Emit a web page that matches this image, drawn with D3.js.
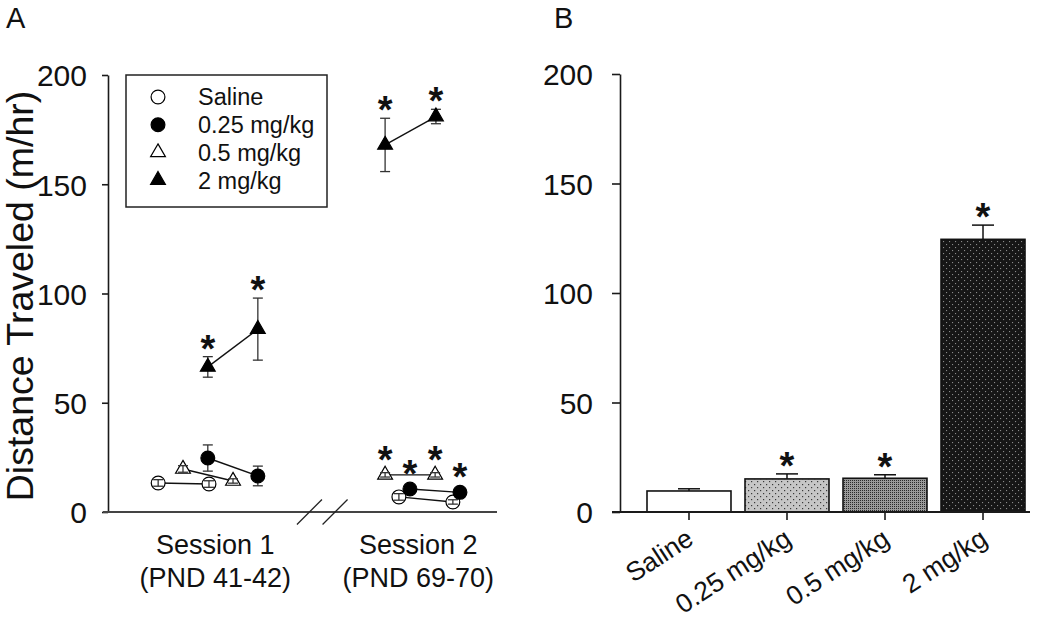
<!DOCTYPE html>
<html><head><meta charset="utf-8">
<script src="https://cdn.jsdelivr.net/npm/d3@7"></script>
<style>
body{margin:0;background:#fff}
svg{display:block}
text{font-family:"Liberation Sans",Arial,Helvetica,sans-serif;fill:#111}
</style>
</head><body>
<svg id="c" width="1050" height="624"></svg>
<script>
// ---------- DATA ----------
const groups = ["Saline", "0.25 mg/kg", "0.5 mg/kg", "2 mg/kg"];
const sessionLines = [["Session 1", "(PND 41-42)"], ["Session 2", "(PND 69-70)"]];
const sessionCenters = [28.5, 80];           // x units on panel A axis
const yTicks = [0, 50, 100, 150, 200];

// Panel A: 4 points per group: S1 day1, S1 day2, S2 day1, S2 day2
const salineX   = [14.0, 26.9, 75.1, 88.8];
const salineMean = [13.3, 12.8, 6.9, 4.6];
const salineSem  = [1.5, 1.5, 1.5, 1.0];
const salineSig  = [false, false, false, false];

const low025X    = [26.6, 39.3, 77.9, 90.6];
const low025Mean = [24.7, 16.5, 10.5, 9.0];
const low025Sem  = [6.0, 4.5, 1.0, 1.0];
const low025Sig  = [false, false, true, true];

const mid05X     = [20.3, 33.0, 71.6, 84.3];
const mid05Mean  = [19.7, 14.2, 17.0, 17.0];
const mid05Sem   = [1.5, 1.0, 1.0, 1.0];
const mid05Sig   = [false, false, true, true];

const high2X     = [26.6, 39.3, 71.6, 84.5];
const high2Mean  = [66.4, 83.7, 168.0, 181.0];
const high2Sem   = [4.7, 14.2, 12.2, 3.3];
const high2Sig   = [true, true, true, true];

// Panel B
const barMeans = [9.6, 15.1, 15.4, 124.5];
const barSem   = [1.0, 2.3, 1.6, 6.5];
const barSig   = [false, true, true, true];

// ---------- DRAW ----------
const svg = d3.select("#c");
const defs = svg.append("defs");

function dotPattern(id, size, bg, dot, r, pts){
  const p = defs.append("pattern").attr("id", id).attr("patternUnits","userSpaceOnUse")
    .attr("width", size).attr("height", size);
  p.append("rect").attr("width", size).attr("height", size).attr("fill", bg);
  pts.forEach(q => p.append("rect").attr("x", q[0]).attr("y", q[1]).attr("width", r).attr("height", r).attr("fill", dot));
}
dotPattern("p0", 6, "#ffffff", "#ffffff", 1, []);
dotPattern("p1", 6, "#c6c6c6", "#3a3a3a", 1.2, [[1,1],[4,4]]);
dotPattern("p2", 2, "#9a9a9a", "#2a2a2a", 1, [[0,0]]);
dotPattern("p3", 6, "#161616", "#8a8a8a", 1.1, [[1,1],[4,4]]);
const patIds = ["p0","p1","p2","p3"];

const axisColor = "#1a1a1a";

// ---- Panel A ----
const yA = d3.scaleLinear().domain([0, 200]).range([512, 75]);
const xA = d3.scaleLinear().domain([0, 100]).range([103, 497]);
const axisAx = 108;

const gA = svg.append("g");
const yAxisA = gA.append("g").attr("transform", `translate(${axisAx},0)`)
  .call(d3.axisLeft(yA).tickValues(yTicks).tickSize(6).tickSizeOuter(0).tickPadding(15));
yAxisA.select(".domain").attr("stroke", axisColor).attr("stroke-width", 1.6);
yAxisA.selectAll(".tick line").attr("stroke", axisColor).attr("stroke-width", 1.6);
yAxisA.selectAll(".tick text").style("font-size", "30px").attr("fill", "#111").attr("dy", "0.36em");

gA.append("line").attr("x1", xA(0)).attr("x2", xA(100)).attr("y1", yA(0)).attr("y2", yA(0))
  .attr("stroke", "#444").attr("stroke-width", 1.8);

// axis break marks
[52.4, 58.9].forEach(u => {
  gA.append("line").attr("x1", xA(u) - 12.5).attr("y1", yA(0) + 12.5)
    .attr("x2", xA(u) + 12.5).attr("y2", yA(0) - 12.5)
    .attr("stroke", "#222").attr("stroke-width", 1.3);
});

sessionLines.forEach((lines, i) => {
  const t = gA.append("text").attr("text-anchor", "middle").style("font-size", "27px");
  t.append("tspan").attr("x", xA(sessionCenters[i])).attr("y", 554).text(lines[0]);
  t.append("tspan").attr("x", xA(sessionCenters[i])).attr("y", 587).text(lines[1]);
});

svg.append("text").attr("transform", `translate(33,296) rotate(-90)`)
  .attr("text-anchor", "middle").style("font-size", "37.5px").text("Distance Traveled (m/hr)");

svg.append("text").attr("x", 6).attr("y", 28).style("font-size", "29px").text("A");
svg.append("text").attr("x", 554).attr("y", 28).style("font-size", "29px").text("B");

const series = [
  {name: groups[0], x: salineX, m: salineMean, s: salineSem, sig: salineSig, shape: "circle", filled: false},
  {name: groups[1], x: low025X, m: low025Mean, s: low025Sem, sig: low025Sig, shape: "circle", filled: true},
  {name: groups[2], x: mid05X,  m: mid05Mean,  s: mid05Sem,  sig: mid05Sig,  shape: "triangle", filled: false},
  {name: groups[3], x: high2X,  m: high2Mean,  s: high2Sem,  sig: high2Sig,  shape: "triangle", filled: true}
];
const symCircle = d3.symbol().type(d3.symbolCircle).size(150);
const symTri = d3.symbol().type(d3.symbolTriangle).size(95);
function symPath(shape){ return shape === "circle" ? symCircle() : symTri(); }

series.forEach(sr => {
  [[0,1],[2,3]].forEach(pair => {
    gA.append("line")
      .attr("x1", xA(sr.x[pair[0]])).attr("y1", yA(sr.m[pair[0]]))
      .attr("x2", xA(sr.x[pair[1]])).attr("y2", yA(sr.m[pair[1]]))
      .attr("stroke", "#111").attr("stroke-width", 1.4);
  });
});

function drawErr(sr){
  sr.m.forEach((v, i) => {
    const cx = xA(sr.x[i]);
    const g = gA.append("g").attr("stroke", "#333").attr("stroke-width", 1.3);
    g.append("line").attr("x1", cx).attr("x2", cx).attr("y1", yA(v + sr.s[i])).attr("y2", yA(v - sr.s[i]));
    g.append("line").attr("x1", cx - 5).attr("x2", cx + 5).attr("y1", yA(v + sr.s[i])).attr("y2", yA(v + sr.s[i]));
    g.append("line").attr("x1", cx - 5).attr("x2", cx + 5).attr("y1", yA(v - sr.s[i])).attr("y2", yA(v - sr.s[i]));
  });
}
function drawMarkers(sr){
  sr.m.forEach((v, i) => {
    gA.append("path").attr("d", symPath(sr.shape))
      .attr("transform", `translate(${xA(sr.x[i])},${yA(v)})`)
      .attr("fill", sr.filled ? "#000" : "#fff").attr("stroke", "#000").attr("stroke-width", 1.2);
  });
}
series.filter(s => !s.filled).forEach(drawMarkers);
series.forEach(drawErr);
series.filter(s => s.filled).forEach(drawMarkers);

series.forEach(sr => {
  sr.m.forEach((v, i) => {
    if (!sr.sig[i]) return;
    const top = Math.min(yA(v + sr.s[i]), yA(v) - 7);
    gA.append("text").attr("x", xA(sr.x[i])).attr("y", top + 5)
      .attr("text-anchor", "middle").style("font-size", "38px").style("font-weight", "bold").text("*");
  });
});

const leg = gA.append("g");
leg.append("rect").attr("x", 126).attr("y", 75).attr("width", 201).attr("height", 132)
  .attr("fill", "#fff").attr("stroke", "#222").attr("stroke-width", 1.5);
series.forEach((sr, i) => {
  const yy = 97 + i * 27.7;
  leg.append("path").attr("d", symPath(sr.shape)).attr("transform", `translate(158,${yy})`)
    .attr("fill", sr.filled ? "#000" : "#fff").attr("stroke", "#000").attr("stroke-width", 1.2);
  leg.append("text").attr("x", 198).attr("y", yy).attr("dy", "0.36em").style("font-size", "23.5px").text(sr.name);
});

// ---- Panel B ----
const yB = d3.scaleLinear().domain([0, 200]).range([512, 74]);
const xB = d3.scaleBand().domain(groups).range([647, 1025]).paddingInner(0.143).paddingOuter(0);
const axisBx = 620;
const gB = svg.append("g");

const yAxisB = gB.append("g").attr("transform", `translate(${axisBx},0)`)
  .call(d3.axisLeft(yB).tickValues(yTicks).tickSize(8).tickSizeOuter(0).tickPadding(19));
yAxisB.select(".domain").attr("stroke", axisColor).attr("stroke-width", 1.6);
yAxisB.selectAll(".tick line").attr("stroke", axisColor).attr("stroke-width", 1.6);
yAxisB.selectAll(".tick text").style("font-size", "30px").attr("fill", "#111").attr("dy", "0.36em");

groups.forEach((g, i) => {
  const x0 = xB(g), w = xB.bandwidth();
  const cx = x0 + w / 2;
  gB.append("line").attr("x1", cx).attr("x2", cx).attr("y1", yB(barMeans[i])).attr("y2", yB(barMeans[i] + barSem[i]))
    .attr("stroke", "#111").attr("stroke-width", 1.5);
  gB.append("line").attr("x1", cx - 11).attr("x2", cx + 11).attr("y1", yB(barMeans[i] + barSem[i])).attr("y2", yB(barMeans[i] + barSem[i]))
    .attr("stroke", "#111").attr("stroke-width", 1.5);
  gB.append("rect").attr("x", x0).attr("y", yB(barMeans[i])).attr("width", w).attr("height", yB(0) - yB(barMeans[i]))
    .attr("fill", `url(#${patIds[i]})`).attr("stroke", "#111").attr("stroke-width", 1.6);
  if (barSig[i]) {
    gB.append("text").attr("x", cx).attr("y", yB(barMeans[i] + barSem[i]) + 5)
      .attr("text-anchor", "middle").style("font-size", "38px").style("font-weight", "bold").text("*");
  }
});

const xAxisB = gB.append("g").attr("transform", `translate(0,${yB(0)})`)
  .call(d3.axisBottom(xB).tickSize(8).tickSizeOuter(0));
xAxisB.select(".domain").remove();
xAxisB.selectAll(".tick line").attr("stroke", axisColor).attr("stroke-width", 1.6);
xAxisB.selectAll(".tick text").style("font-size", "26.5px").attr("fill", "#111")
  .attr("text-anchor", "end").attr("x", 0).attr("y", 0).attr("dy", 0).attr("dx", 0)
  .attr("transform", "translate(6,31) rotate(-33)");
gB.append("line").attr("x1", 612).attr("x2", 1030).attr("y1", yB(0)).attr("y2", yB(0))
  .attr("stroke", axisColor).attr("stroke-width", 1.8);
</script>
</body></html>
